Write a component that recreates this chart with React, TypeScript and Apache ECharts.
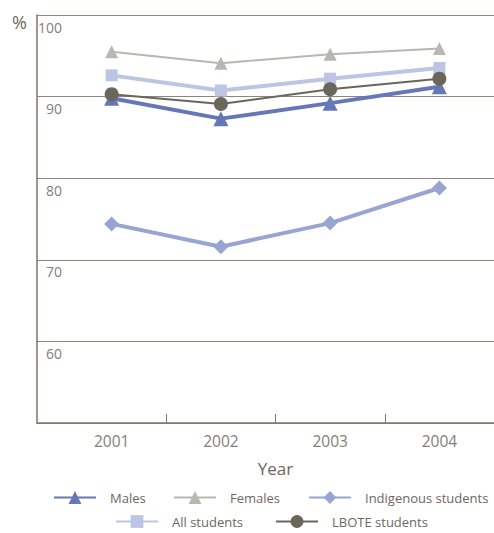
import React, { useEffect, useRef } from 'react';
import * as echarts from 'echarts';

const years = ['2001', '2002', '2003', '2004'];
const males = [89.8, 87.3, 89.2, 91.2];
const females = [95.5, 94.1, 95.2, 95.9];
const indigenous = [74.4, 71.6, 74.5, 78.8];
const allStudents = [92.6, 90.75, 92.2, 93.5];
const lbote = [90.3, 89.1, 90.9, 92.2];
const yMin = 50;
const yMax = 100;
const yStep = 10;

const FONT = "'Open Sans', sans-serif";
const AXIS = '#7d776c';
const TEXT = '#857e75';
const DARK = '#6e675e';

export default function App() {
  const ref = useRef<HTMLDivElement>(null);
  useEffect(() => {
    document.body.style.margin = '0';
    const chart = echarts.init(ref.current!, null, { renderer: 'svg' });
    const mk = (name: string, data: number[], color: string, width: number, symbol: string, size: number) => ({
      name,
      type: 'line',
      xAxisIndex: 0,
      yAxisIndex: 0,
      data,
      symbol,
      symbolSize: size,
      showSymbol: true,
      lineStyle: { color, width },
      itemStyle: { color },
      color,
    });
    const legendItem = (name: string, left: number, top: number) => ({
      data: [name],
      left,
      top,
      itemWidth: 42,
      itemHeight: 16,
      padding: 0,
      textStyle: { fontFamily: FONT, fontSize: 13, color: DARK, padding: [0, 0, 0, 9] },
    });
    chart.setOption({
      animation: false,
      textStyle: { fontFamily: FONT },
      grid: [
        { left: 57, right: -3, top: 15, bottom: 110 },
        { left: 37, right: 0, top: 15, bottom: 110 },
      ],
      xAxis: [
        {
          type: 'category',
          gridIndex: 0,
          data: years,
          boundaryGap: true,
          axisLine: { show: false },
          axisTick: {
            show: true,
            inside: true,
            length: 9,
            interval: (i: number) => i !== 0,
            lineStyle: { color: AXIS, width: 1 },
          },
          axisLabel: { margin: 10, fontSize: 15.5, color: TEXT, fontFamily: FONT },
          name: 'Year',
          nameLocation: 'middle',
          nameGap: 37,
          nameTextStyle: { fontSize: 17, color: DARK, fontFamily: FONT },
          splitLine: { show: false },
        },
        {
          type: 'value',
          gridIndex: 1,
          min: 0,
          max: 1,
          axisLine: { show: true, onZero: false, lineStyle: { color: AXIS, width: 1.5 } },
          axisTick: { show: false },
          axisLabel: { show: false },
          splitLine: { show: false },
        },
      ],
      yAxis: [
        { type: 'value', gridIndex: 0, min: yMin, max: yMax, show: false },
        {
          type: 'value',
          gridIndex: 1,
          min: yMin,
          max: yMax,
          interval: yStep,
          axisLine: { show: true, lineStyle: { color: AXIS, width: 1.5 } },
          axisTick: { show: false },
          splitLine: { show: true, lineStyle: { color: '#8c867c', width: 1 } },
          axisLabel: {
            inside: true,
            align: 'right',
            verticalAlign: 'top',
            lineHeight: 24,
            margin: 25,
            fontSize: 14,
            color: TEXT,
            fontFamily: FONT,
            formatter: (v: number) => (v === yMin ? '' : String(v)),
          },
        },
      ],
      legend: [
        legendItem('Males', 53, 491),
        legendItem('Females', 173, 491),
        legendItem('Indigenous students', 308, 491),
        legendItem('All students', 115, 515),
        legendItem('LBOTE students', 275, 515),
      ],
      graphic: [
        {
          type: 'text',
          left: 12,
          top: 13,
          style: { text: '%', fontSize: 18, fill: DARK, fontFamily: FONT },
        },
      ],
      series: [
        mk('Males', males, '#6677b8', 4, 'triangle', 15),
        mk('Females', females, '#b9b7b0', 2, 'triangle', 13),
        mk('Indigenous students', indigenous, '#98a4d2', 4, 'diamond', 15),
        mk('All students', allStudents, '#bcc5e3', 4, 'rect', 12),
        mk('LBOTE students', lbote, '#6b665a', 2, 'circle', 14),
      ],
    });
    return () => chart.dispose();
  }, []);
  return <div ref={ref} style={{ width: 494, height: 533 }} />;
}
